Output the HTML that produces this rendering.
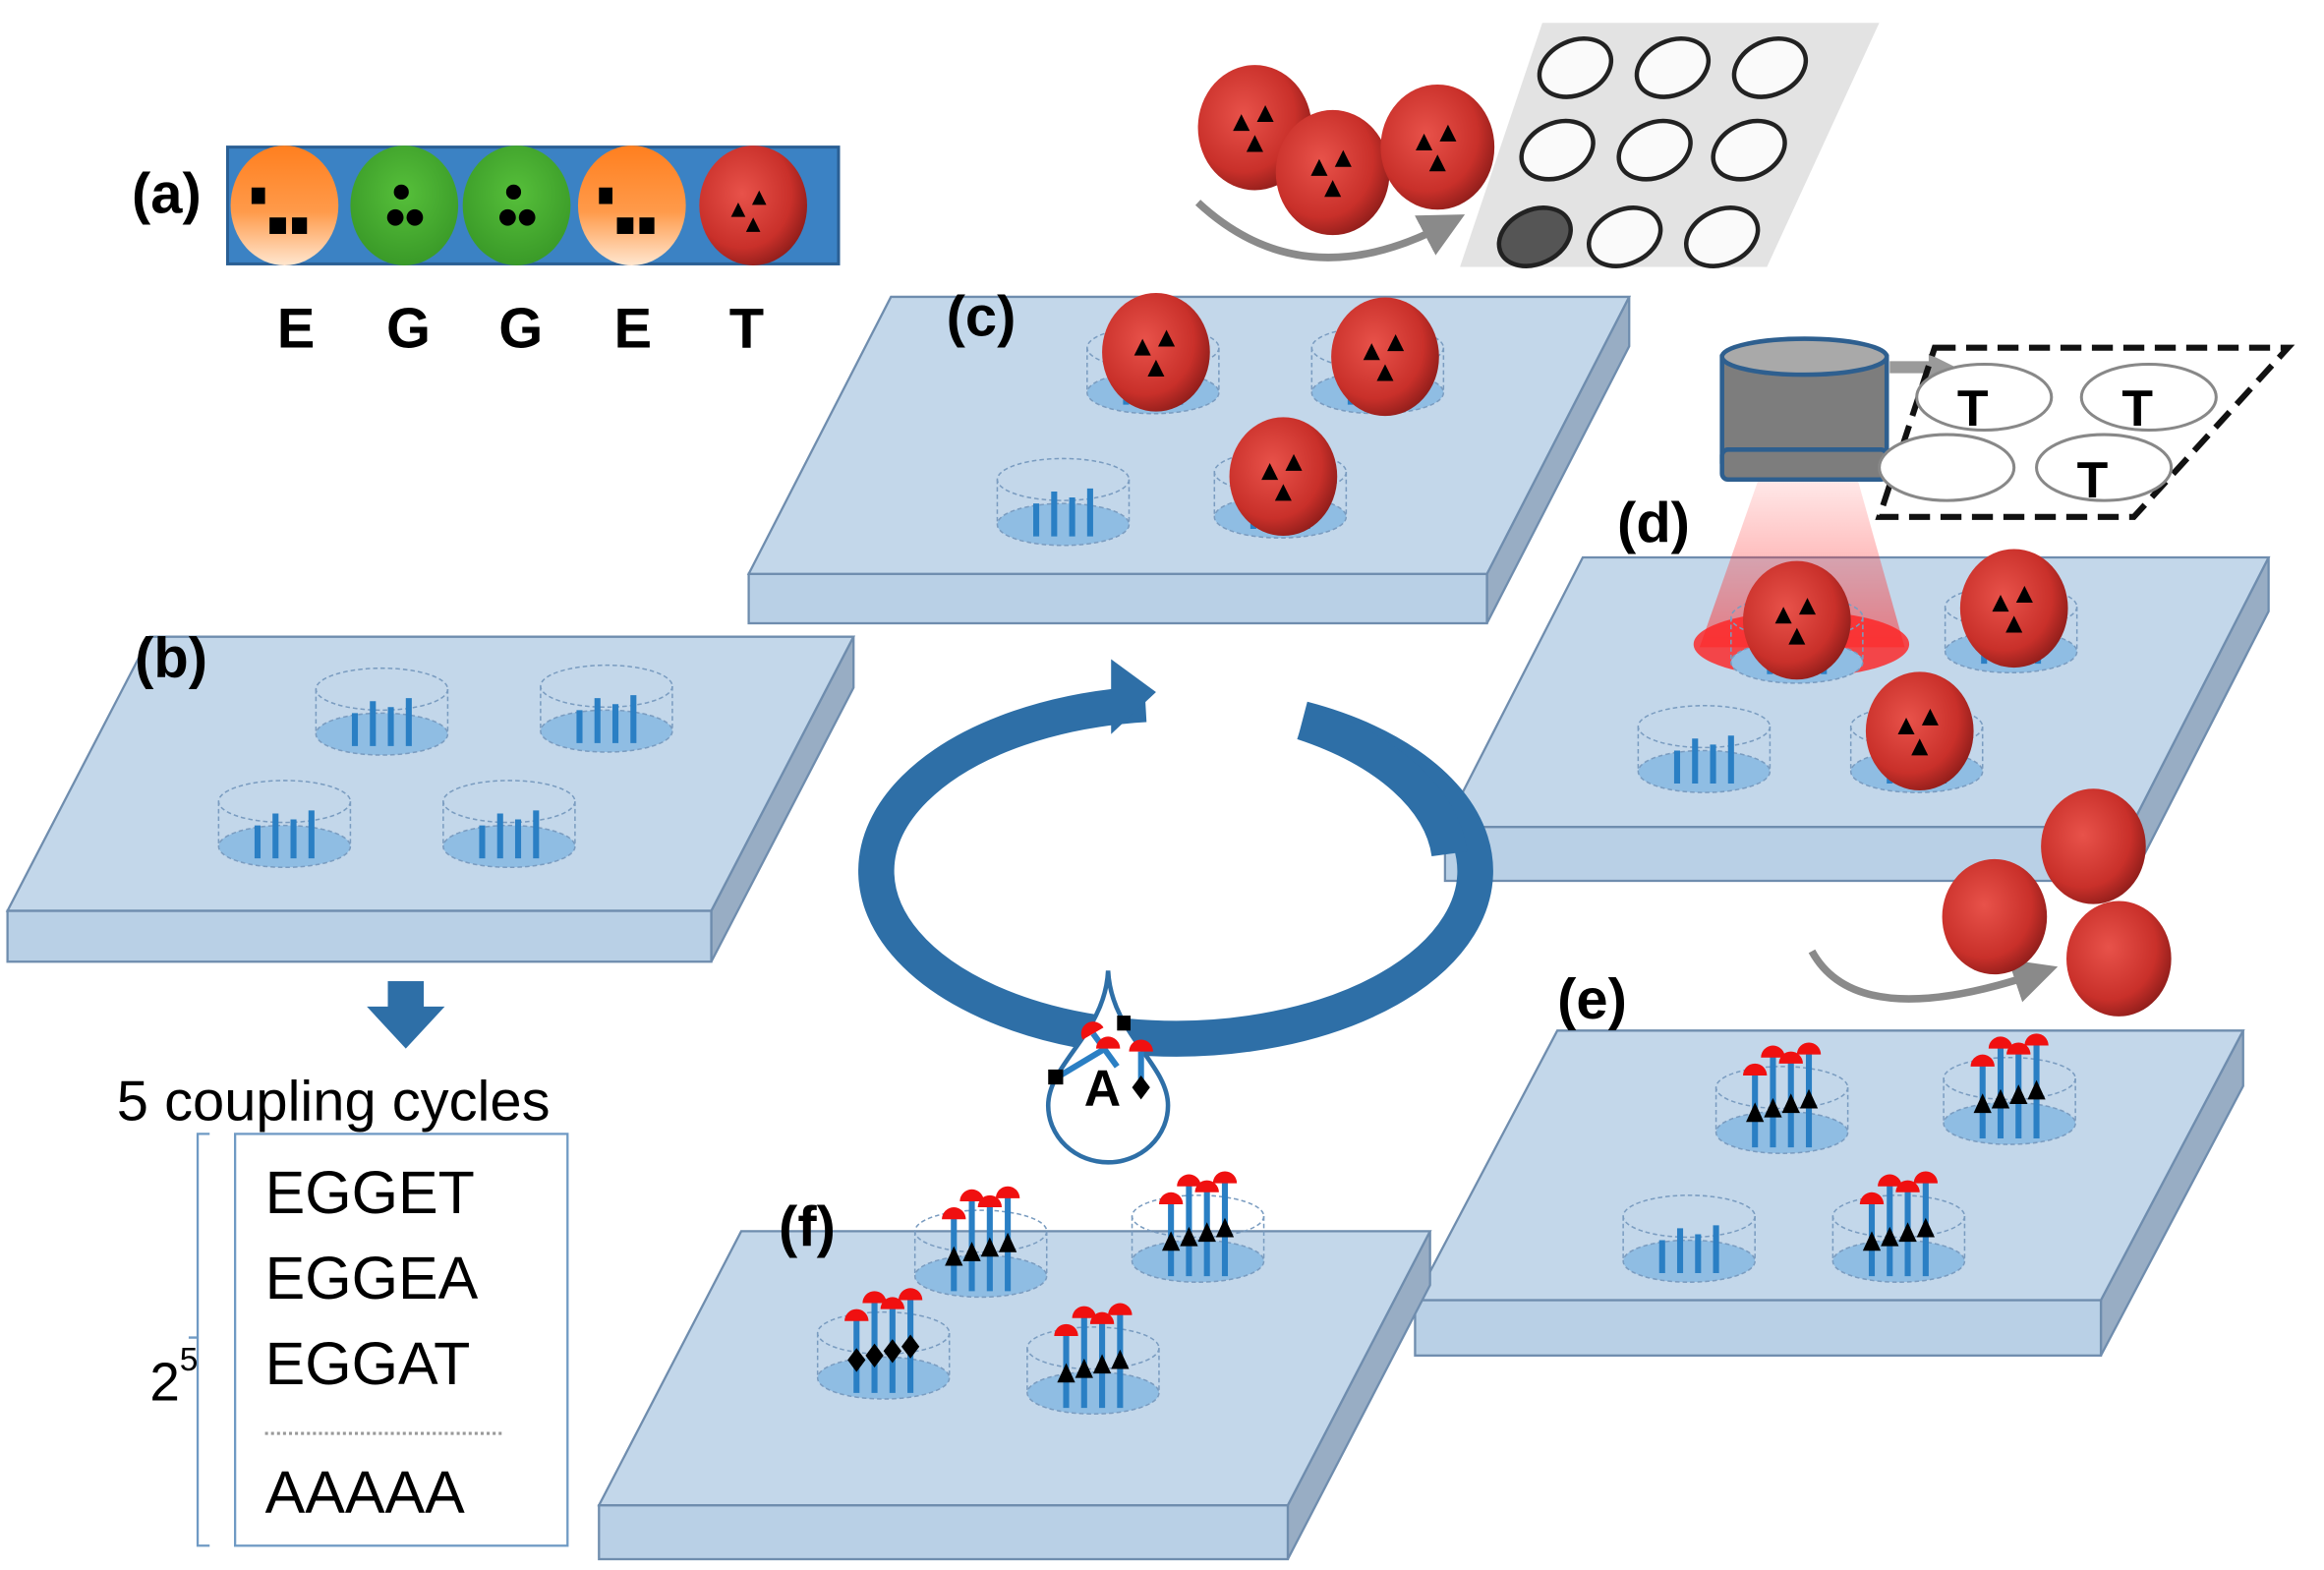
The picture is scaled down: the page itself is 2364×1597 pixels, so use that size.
<!DOCTYPE html>
<html><head><meta charset="utf-8"><style>
html,body{margin:0;padding:0;background:#fff;width:2364px;height:1597px;overflow:hidden}
svg{display:block}
text{font-family:"Liberation Sans",Arial,sans-serif}
</style></head><body>
<svg id="s" width="2364" height="1597" viewBox="0 0 1552 1048" xmlns="http://www.w3.org/2000/svg">
<defs>
<radialGradient id="red" cx="0.4" cy="0.4" r="0.65"><stop offset="0" stop-color="#e8524a"/><stop offset="0.7" stop-color="#c9302a"/><stop offset="1" stop-color="#8e1d1a"/></radialGradient>
<linearGradient id="org" x1="0" y1="0" x2="0" y2="1"><stop offset="0" stop-color="#ff7f1f"/><stop offset="0.55" stop-color="#ff9a4a"/><stop offset="1" stop-color="#ffe6cf"/></linearGradient>
<radialGradient id="grn" cx="0.5" cy="0.4" r="0.6"><stop offset="0" stop-color="#56bf3a"/><stop offset="1" stop-color="#3a9a28"/></radialGradient>
<linearGradient id="beam" x1="0" y1="0" x2="0" y2="1"><stop offset="0" stop-color="#ff3030" stop-opacity="0.1"/><stop offset="1" stop-color="#ff3030" stop-opacity="0.55"/></linearGradient>
<marker id="ga" markerWidth="6" markerHeight="6" refX="3" refY="3" orient="auto"><path d="M0,0 L6,3 L0,6 z" fill="#8a8a8a"/></marker>
</defs>
<g id="g"></g>
<!-- text -->
<text x="88" y="142" font-size="38" font-weight="bold">(a)</text>
<text x="185" y="232" font-size="38" font-weight="bold">E</text>
<text x="258" y="232" font-size="38" font-weight="bold">G</text>
<text x="333" y="232" font-size="38" font-weight="bold">G</text>
<text x="410" y="232" font-size="38" font-weight="bold">E</text>
<text x="487" y="232" font-size="38" font-weight="bold">T</text>
<text x="90" y="452" font-size="38" font-weight="bold">(b)</text>
<text x="632" y="224" font-size="38" font-weight="bold">(c)</text>
<text x="1080" y="362" font-size="38" font-weight="bold">(d)</text>
<text x="1040" y="680" font-size="38" font-weight="bold">(e)</text>
<text x="520" y="832" font-size="38" font-weight="bold">(f)</text>
<text x="78" y="748" font-size="38">5 coupling cycles</text>
<text x="177" y="810" font-size="40">EGGET</text>
<text x="177" y="867" font-size="40">EGGEA</text>
<text x="177" y="924" font-size="40">EGGAT</text>
<text x="177" y="1010" font-size="40">AAAAA</text>
<text x="100" y="935" font-size="36">2</text><text x="120" y="915" font-size="22">5</text>
<text x="1307" y="284" font-size="34" font-weight="bold">T</text>
<text x="1417" y="284" font-size="34" font-weight="bold">T</text>
<text x="1387" y="332" font-size="34" font-weight="bold">T</text>
<text x="724" y="738" font-size="34" font-weight="bold">A</text>
</svg>
<script>
var g=document.getElementById('g'),h='';
function slab(x0,x1,y0,dx,y1,t){ // top back left x0,right x1 at y0; front y1 shifted by -dx
 var a=x0,b=x1,c=x1-dx,d=x0-dx;
 h+='<polygon points="'+b+','+y0+' '+b+','+(y0+t)+' '+c+','+(y1+t)+' '+c+','+y1+'" fill="#98adc4" stroke="#6f8dae" stroke-width="1.5"/>';
 h+='<rect x="'+d+'" y="'+y1+'" width="'+(c-d)+'" height="'+t+'" fill="#b9d0e6" stroke="#6f8dae" stroke-width="1.5"/>';
 h+='<polygon points="'+a+','+y0+' '+b+','+y0+' '+c+','+y1+' '+d+','+y1+'" fill="#c3d7ea" stroke="#6f8dae" stroke-width="1.5"/>';
}
function well(x,y,mode){ // x,y center top ellipse
 var rx=44,ry=14,H=30;
 h+='<ellipse cx="'+x+'" cy="'+(y+H)+'" rx="'+rx+'" ry="'+ry+'" fill="#8fbde3" stroke="#7a9cc0" stroke-dasharray="3,2"/>';
 h+='<line x1="'+(x-rx)+'" y1="'+y+'" x2="'+(x-rx)+'" y2="'+(y+H)+'" stroke="#7a9cc0" stroke-dasharray="3,2"/><line x1="'+(x+rx)+'" y1="'+y+'" x2="'+(x+rx)+'" y2="'+(y+H)+'" stroke="#7a9cc0" stroke-dasharray="3,2"/>';
 h+='<ellipse cx="'+x+'" cy="'+y+'" rx="'+rx+'" ry="'+ry+'" fill="none" stroke="#7a9cc0" stroke-dasharray="3,2"/>';
 var xs=[-18,-6,6,18];
 if(mode==0||mode==1){
  var hs=[22,30,26,32];
  xs.forEach(function(d,i){h+='<line x1="'+(x+d)+'" y1="'+(y+H+8)+'" x2="'+(x+d)+'" y2="'+(y+H+8-hs[i])+'" stroke="#2a7fc4" stroke-width="4"/>';});
 } else {
  var tops=[-10,-22,-18,-24];
  xs.forEach(function(d,i){var ty=y+tops[i];
   h+='<line x1="'+(x+d)+'" y1="'+(y+H+10)+'" x2="'+(x+d)+'" y2="'+ty+'" stroke="#2a7fc4" stroke-width="4"/>';
   h+='<path d="M'+(x+d-8)+','+(ty+2)+' a8,8 0 0,1 16,0 z" fill="#f01010"/>';
   var my=y+18-i*3;
   if(mode==3) h+='<polygon points="'+(x+d)+','+(my-8)+' '+(x+d+6)+','+my+' '+(x+d)+','+(my+8)+' '+(x+d-6)+','+my+'" fill="#000"/>';
   else h+='<polygon points="'+(x+d)+','+(my-8)+' '+(x+d+6)+','+(my+5)+' '+(x+d-6)+','+(my+5)+'" fill="#000"/>';
  });
 }
}
function tri(x,y,s){return '<polygon points="'+x+','+(y-s)+' '+(x+s*0.8)+','+(y+s*0.6)+' '+(x-s*0.8)+','+(y+s*0.6)+'" fill="#000"/>';}
function bead(x,y,r,tris){
 h+='<ellipse cx="'+x+'" cy="'+y+'" rx="'+r+'" ry="'+(r*1.1)+'" fill="url(#red)"/>';
 if(tris){h+=tri(x-9,y-2,7)+tri(x+7,y-8,7)+tri(x,y+12,7);}
}
// (a)
h+='<rect x="152" y="98" width="408" height="78" fill="#3b82c4" stroke="#2a5f94" stroke-width="2"/>';
[[190,'org','sq'],[270,'grn','ci'],[345,'grn','ci'],[422,'org','sq'],[503,'red','tr']].forEach(function(o){
 var x=o[0],y=137;h+='<ellipse cx="'+x+'" cy="'+y+'" rx="36" ry="40" fill="url(#'+o[1]+')"/>';
 if(o[2]=='sq')h+='<rect x="'+(x-22)+'" y="'+(y-12)+'" width="9" height="11"/><rect x="'+(x-10)+'" y="'+(y+8)+'" width="11" height="11"/><rect x="'+(x+5)+'" y="'+(y+8)+'" width="10" height="11"/>';
 if(o[2]=='ci')h+='<circle cx="'+(x-2)+'" cy="'+(y-9)+'" r="5"/><circle cx="'+(x-6)+'" cy="'+(y+8)+'" r="5.5"/><circle cx="'+(x+7)+'" cy="'+(y+8)+'" r="5.5"/>';
 if(o[2]=='tr')h+=tri(x-10,y+4,6)+tri(x+4,y-4,6)+tri(x,y+14,6);
});
// slabs
slab(100,570,425,95,608,34);
slab(595,1088,198,95,383,33);
slab(1057,1515,372,92,552,36);
slab(1040,1498,688,95,868,37);
slab(495,955,822,95,1005,36);
// (b) wells
[[255,460],[405,458],[190,535],[340,535]].forEach(function(p){well(p[0],p[1],0);});
// (c)
[[770,232,0],[920,232,0],[710,320,0],[855,315,0]].forEach(function(p){well(p[0],p[1],0);});
bead(772,235,36,1);bead(925,238,36,1);bead(857,318,36,1);
// (d)
h+='<polygon points="1175,318 1240,318 1272,432 1135,432" fill="url(#beam)"/>';
h+='<ellipse cx="1203" cy="430" rx="72" ry="22" fill="#ff2020" opacity="0.8"/>';
[[1200,412],[1343,405],[1138,485],[1280,485]].forEach(function(p){well(p[0],p[1],0);});
bead(1200,414,36,1);bead(1345,406,36,1);bead(1282,488,36,1);
// camera
h+='<line x1="1262" y1="245" x2="1290" y2="245" stroke="#9a9a9a" stroke-width="8"/><polygon points="1288,236 1306,245 1288,254" fill="#9a9a9a"/>';
h+='<rect x="1150" y="238" width="110" height="70" fill="#7d7d7d" stroke="#2e5f8f" stroke-width="3"/>';
h+='<rect x="1150" y="300" width="110" height="20" rx="4" fill="#7d7d7d" stroke="#2e5f8f" stroke-width="3"/>';
h+='<ellipse cx="1205" cy="238" rx="55" ry="12" fill="#a9a9a9" stroke="#2e5f8f" stroke-width="3"/>';
h+='<polygon points="1292,232 1528,232 1425,345 1255,345" fill="none" stroke="#111" stroke-width="4" stroke-dasharray="14,7"/>';
[[1325,265],[1435,265],[1300,312],[1405,312]].forEach(function(p){h+='<ellipse cx="'+p[0]+'" cy="'+p[1]+'" rx="45" ry="22" fill="#fff" stroke="#888" stroke-width="2"/>';});
// SEM
h+='<polygon points="1030,15 1255,15 1180,178 975,178" fill="#e3e3e3"/>';
[[1052,45],[1117,45],[1182,45],[1040,100],[1105,100],[1168,100],[1025,158],[1085,158],[1150,158]].forEach(function(p,i){
 h+='<ellipse cx="'+p[0]+'" cy="'+p[1]+'" rx="25" ry="18" transform="rotate(-25 '+p[0]+' '+p[1]+')" fill="'+(i==6?'#555':'#fafafa')+'" stroke="#222" stroke-width="3"/>';});
h+='<path d="M800,135 Q870,200 965,150" fill="none" stroke="#8a8a8a" stroke-width="5" marker-end="url(#ga)"/>';
bead(838,85,38,1);bead(890,115,38,1);bead(960,98,38,1);
// (e)
h+='<path d="M1210,635 Q1240,690 1360,650" fill="none" stroke="#8a8a8a" stroke-width="5" marker-end="url(#ga)"/>';
bead(1332,612,35,0);bead(1398,565,35,0);bead(1415,640,35,0);
[[1190,726,2],[1342,720,2],[1128,812,0],[1268,812,2]].forEach(function(p){well(p[0],p[1],p[2]);});
// (f)
[[655,822,2],[800,812,2],[590,890,3],[730,900,2]].forEach(function(p){well(p[0],p[1],p[2]);});
// cycle
h+='<path d="M765,470 A200,112 0 1,0 870,480" fill="none" stroke="#2e6fa7" stroke-width="24" transform="rotate(0)"/>';
h+='<path d="M870,482 A200,112 0 0,1 968,570" fill="none" stroke="#2e6fa7" stroke-width="24"/>';
h+='<polygon points="742,440 772,462 742,490" fill="#2e6fa7"/>';
h+='<path d="M875,485 L968,580" fill="none" stroke="#fff" stroke-width="0"/>';
// drop
h+='<path d="M740,648 C742,690 780,710 780,738 A40,38 0 1,1 700,738 C700,710 738,690 740,648 z" fill="#fff" stroke="#2e6fa7" stroke-width="3"/>';
h+='<line x1="730" y1="690" x2="746" y2="712" stroke="#2a7fc4" stroke-width="4"/><path d="M722,690 a8,8 0 0,1 16,0z" fill="#f01010" transform="rotate(-30 730 690)"/><rect x="746" y="678" width="9" height="10"/>';
h+='<line x1="708" y1="718" x2="738" y2="700" stroke="#2a7fc4" stroke-width="4"/><path d="M732,700 a8,8 0 0,1 16,0z" fill="#f01010"/><rect x="700" y="714" width="10" height="10"/>';
h+='<line x1="762" y1="702" x2="762" y2="725" stroke="#2a7fc4" stroke-width="4"/><path d="M754,702 a8,8 0 0,1 16,0z" fill="#f01010"/><polygon points="762,718 768,726 762,734 756,726" fill="#000"/>';
// down arrow
h+='<rect x="259" y="655" width="24" height="20" fill="#2e6fa7"/><polygon points="245,672 297,672 271,700" fill="#2e6fa7"/>';
// bracket + box
h+='<rect x="157" y="757" width="222" height="275" fill="none" stroke="#6f9ac4" stroke-width="1.5"/>';
h+='<path d="M140,757 L132,757 L132,1032 L140,1032 M132,893 L126,893" fill="none" stroke="#6f9ac4" stroke-width="1.5"/>';
h+='<line x1="177" y1="957" x2="335" y2="957" stroke="#999" stroke-width="2" stroke-dasharray="2,2"/>';
g.innerHTML=h;
</script>
</body></html>
